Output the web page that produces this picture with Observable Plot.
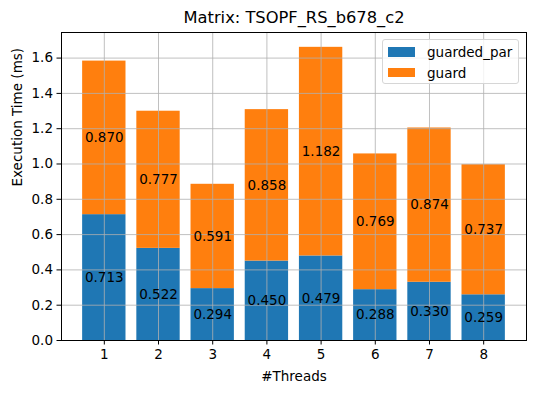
<!DOCTYPE html>
<html>
<head>
<meta charset="utf-8">
<script src="https://cdn.jsdelivr.net/npm/d3@7"></script>
<script src="https://cdn.jsdelivr.net/npm/@observablehq/plot@0.6"></script>
<style>
  html, body { margin: 0; padding: 0; background: #fff; }
  #wrap { position: relative; width: 536px; height: 393px; font-family: "DejaVu Sans", sans-serif; }
  #legend { position: absolute; left: 382px; top: 39px; width: 135px; height: 43px;
    border: 1px solid #d6d6d6; border-radius: 3px; background: rgba(255,255,255,0.8);
    font-size: 13.5px; color: #000; }
  .item { position: absolute; left: 5px; height: 20px; display: flex; align-items: center; }
  .sw { width: 27px; height: 9.5px; margin-right: 12px; }
</style>
</head>
<body>
<div id="wrap"></div>
<script>
const threads = [1, 2, 3, 4, 5, 6, 7, 8];
const guardedPar = [0.713, 0.522, 0.294, 0.450, 0.479, 0.288, 0.330, 0.259];
const guard = [0.870, 0.777, 0.591, 0.858, 1.182, 0.769, 0.874, 0.737];
const seriesNames = ["guarded_par", "guard"];
const colors = ["#1f77b4", "#ff7f0e"];
const yTicks = [0, 0.2, 0.4, 0.6, 0.8, 1.0, 1.2, 1.4, 1.6];
const title = "Matrix: TSOPF_RS_b678_c2";
const xLabel = "#Threads";
const yLabel = "Execution Time (ms)";

const rows = [];
threads.forEach((t, i) => {
  rows.push({t, series: seriesNames[0], lo: 0, hi: guardedPar[i], v: guardedPar[i]});
  rows.push({t, series: seriesNames[1], lo: guardedPar[i], hi: guardedPar[i] + guard[i], v: guard[i]});
});

const chart = Plot.plot({
  width: 536, height: 393,
  marginLeft: 61, marginRight: 10, marginTop: 32, marginBottom: 53,
  style: {fontFamily: "DejaVu Sans, sans-serif", fontSize: "13.5px", color: "#000", background: "#fff"},
  x: {type: "linear", domain: [0.21, 8.79]},
  y: {domain: [0, 1.745]},
  color: {domain: seriesNames, range: colors},
  marks: [
    Plot.rect(rows, {x1: d => d.t - 0.4, x2: d => d.t + 0.4, y1: "lo", y2: "hi", fill: "series"}),
    Plot.gridX(threads, {stroke: "#b0b0b0", strokeOpacity: 1, strokeWidth: 0.8}),
    Plot.gridY(yTicks, {stroke: "#b0b0b0", strokeOpacity: 1, strokeWidth: 0.8}),
    Plot.text(rows, {x: "t", y: d => (d.lo + d.hi) / 2, text: d => d.v.toFixed(3), fill: "#000", fontSize: 13.5, lineAnchor: "middle"}),
    Plot.frame({stroke: "#000", strokeWidth: 1}),
    Plot.axisX(threads, {tickFormat: d => String(d), tickSize: 4.5, tickPadding: 4, label: null, fontSize: 13.5}),
    Plot.axisY(yTicks, {tickFormat: d => d.toFixed(1), tickSize: 4.5, tickPadding: 4, label: null, fontSize: 13.5}),
    Plot.text([xLabel], {frameAnchor: "bottom", dy: 36, lineAnchor: "middle", fontSize: 13.5, fill: "#000"}),
    Plot.text([yLabel], {frameAnchor: "left", dx: -44, rotate: -90, lineAnchor: "middle", fontSize: 13.5, fill: "#000"}),
    Plot.text([title], {frameAnchor: "top", dy: -15, lineAnchor: "middle", fontSize: 16.3, fill: "#000"})
  ]
});

const wrap = document.getElementById("wrap");
wrap.appendChild(chart);

const legend = document.createElement("div");
legend.id = "legend";
seriesNames.forEach((name, i) => {
  const item = document.createElement("div");
  item.className = "item";
  item.style.top = (2 + i * 20.7) + "px";
  const sw = document.createElement("div");
  sw.className = "sw";
  sw.style.background = colors[i];
  const label = document.createElement("span");
  label.textContent = name;
  item.appendChild(sw);
  item.appendChild(label);
  legend.appendChild(item);
});
wrap.appendChild(legend);
</script>
</body>
</html>
